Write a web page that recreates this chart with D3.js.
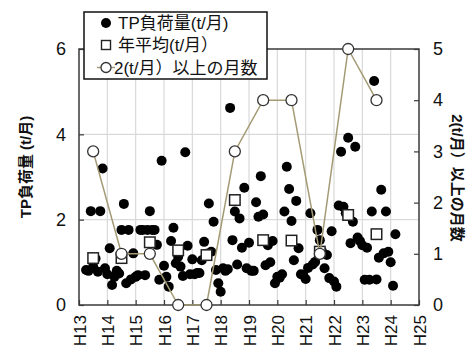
<!DOCTYPE html>
<html><head><meta charset="utf-8">
<script src="https://cdn.jsdelivr.net/npm/d3@7/dist/d3.min.js"></script>
<style>body{margin:0;background:#fff}</style>
</head><body>
<svg id="chart" width="470" height="350"></svg>
<script>
// ---- data ----
const yearLabels = ["H13","H14","H15","H16","H17","H18","H19","H20","H21","H22","H23","H24","H25"];
const firstMonthPos = 13.25; // April of H13 (fiscal year start)
const tpLoad = [
  // FY H13
  0.82,0.80,2.20,0.90,1.09,0.78,2.20,3.20,0.86,0.72,1.33,0.47,
  // FY H14
  0.66,0.80,0.74,1.76,2.37,0.51,1.76,0.60,1.21,0.66,0.70,1.76,
  // FY H15
  1.76,0.70,1.76,2.20,1.76,1.76,1.41,0.59,3.38,0.92,0.66,0.43,
  // FY H16
  1.50,1.81,0.98,1.13,0.90,0.68,3.58,1.39,0.72,1.07,0.72,0.75,
  // FY H17
  0.75,1.05,1.48,1.20,2.38,1.25,1.95,0.82,0.51,0.31,0.86,0.80,
  // FY H18
  0.84,4.62,1.52,2.19,0.95,2.03,1.34,2.75,0.86,1.46,0.80,0.80,
  // FY H19
  2.41,2.07,3.02,2.12,0.93,1.40,1.00,1.50,0.51,0.66,0.64,0.72,
  // FY H20
  2.19,3.24,2.72,1.97,1.05,2.44,1.33,0.72,0.70,0.61,0.87,2.15,
  // FY H21
  0.95,1.01,1.76,1.52,1.25,0.86,1.17,0.63,1.73,0.55,0.43,2.33,
  // FY H22
  3.59,2.30,2.15,3.92,1.45,1.95,3.71,1.58,1.50,1.40,0.59,1.34,
  // FY H23
  0.59,2.19,5.25,0.60,1.11,2.70,1.21,2.19,1.25,1.00,0.45,1.66
];
const annualYears = [13,14,15,16,17,18,19,20,21,22,23];
const annualMean = [1.10,1.10,1.47,1.28,1.17,2.46,1.52,1.51,1.25,2.11,1.66];
const monthsOver2 = [3,1,1,0,0,3,4,4,1,5,4];
const leftTicks = [0,2,4,6];
const rightTicks = [0,1,2,3,4,5];
const legendLabels = ["TP負荷量(t/月)","年平均(t/月）","2(t/月）以上の月数"];
const leftTitle = "TP負荷量 (t/月)";
const rightTitle = "2(t/月）以上の月数";

// ---- layout ----
const L = 79, R = 419, T = 49, B = 305;
const FONT = '"Liberation Sans", Arial, "Noto Sans CJK JP", sans-serif';
const lineColor = "#a39a74";
const frameColor = "#3a3a3a";

const svg = d3.select("#chart");
const x = d3.scaleLinear().domain([13,25]).range([L,R]);
const yL = d3.scaleLinear().domain([0,6]).range([B,T]);
const yR = d3.scaleLinear().domain([0,5]).range([B,T]);
const fmt = d3.format("d");

// gridlines
const g = svg.append("g");
g.selectAll(".vg").data(d3.range(14,25)).enter().append("line")
  .attr("x1",d=>x(d)).attr("x2",d=>x(d)).attr("y1",T).attr("y2",B)
  .attr("stroke","#d9d9d9").attr("stroke-width",1.2);
g.selectAll(".hg").data([2,4]).enter().append("line")
  .attr("x1",L).attr("x2",R).attr("y1",d=>yL(d)).attr("y2",d=>yL(d))
  .attr("stroke","#d9d9d9").attr("stroke-width",1.2);

// frame
svg.append("rect").attr("x",L).attr("y",T).attr("width",R-L).attr("height",B-T)
  .attr("fill","none").attr("stroke",frameColor).attr("stroke-width",1.5);

// axes
const xAxis = d3.axisBottom(x).tickValues(d3.range(13,26)).tickSize(-5).tickFormat((d,i)=>yearLabels[i]);
const gx = svg.append("g").attr("transform",`translate(0,${B})`).call(xAxis);
gx.select(".domain").remove();
gx.selectAll(".tick line").attr("stroke",frameColor).attr("stroke-width",1.2);
gx.selectAll(".tick text").attr("transform","rotate(-90)").attr("x",-10).attr("y",0).attr("dy","0.36em")
  .attr("text-anchor","end").attr("font-size",17).attr("font-family",FONT).attr("fill","#111");

const gl = svg.append("g").attr("transform",`translate(${L},0)`)
  .call(d3.axisLeft(yL).tickValues(leftTicks).tickSize(-5).tickPadding(13).tickFormat(fmt));
gl.select(".domain").remove();
gl.selectAll(".tick line").attr("stroke",frameColor).attr("stroke-width",1.2);
gl.selectAll(".tick text").attr("font-size",18).attr("font-family",FONT).attr("fill","#111");

const gr = svg.append("g").attr("transform",`translate(${R},0)`)
  .call(d3.axisRight(yR).tickValues(rightTicks).tickSize(-5).tickPadding(14).tickFormat(fmt));
gr.select(".domain").remove();
gr.selectAll(".tick line").attr("stroke",frameColor).attr("stroke-width",1.2);
gr.selectAll(".tick text").attr("font-size",18).attr("font-family",FONT).attr("fill","#111");

// axis titles
svg.append("text").attr("transform","translate(26,167) rotate(-90)").attr("text-anchor","middle")
  .attr("dy","0.35em").attr("font-size",15).attr("font-weight","bold").attr("font-family",FONT)
  .attr("fill","#111").text(leftTitle);
svg.append("text").attr("transform","translate(457,178) rotate(90)").attr("text-anchor","middle")
  .attr("dy","0.35em").attr("font-size",15).attr("font-weight","bold").attr("font-family",FONT)
  .attr("fill","#111").text(rightTitle);

// monthly dots
svg.append("g").selectAll("circle").data(tpLoad).enter().append("circle")
  .attr("cx",(d,i)=>x(firstMonthPos + i/12)).attr("cy",d=>yL(d)).attr("r",5)
  .attr("fill","#000");

// annual mean squares
const sq = 10.5;
svg.append("g").selectAll("rect").data(annualMean).enter().append("rect")
  .attr("x",(d,i)=>x(annualYears[i]+0.5)-sq/2).attr("y",d=>yL(d)-sq/2)
  .attr("width",sq).attr("height",sq).attr("fill","#fff").attr("stroke","#222").attr("stroke-width",1.5);

// count line + circles
const line = d3.line().x((d,i)=>x(annualYears[i]+0.5)).y(d=>yR(d));
svg.append("path").datum(monthsOver2).attr("d",line).attr("fill","none")
  .attr("stroke",lineColor).attr("stroke-width",1.5);
svg.append("g").selectAll("circle").data(monthsOver2).enter().append("circle")
  .attr("cx",(d,i)=>x(annualYears[i]+0.5)).attr("cy",d=>yR(d)).attr("r",5.5)
  .attr("fill","#fff").attr("stroke","#333").attr("stroke-width",1.3);

// legend
const lg = svg.append("g");
lg.append("rect").attr("x",84).attr("y",12).attr("width",183).attr("height",67)
  .attr("fill","#fff").attr("stroke","#111").attr("stroke-width",1.5);
const rowsY = [23,45,67.5];
lg.append("circle").attr("cx",106).attr("cy",rowsY[0]).attr("r",5).attr("fill","#000");
lg.append("rect").attr("x",106-4.5).attr("y",rowsY[1]-4.5).attr("width",9).attr("height",9)
  .attr("fill","#fff").attr("stroke","#222").attr("stroke-width",1.4);
lg.append("line").attr("x1",97).attr("x2",115).attr("y1",rowsY[2]).attr("y2",rowsY[2])
  .attr("stroke",lineColor).attr("stroke-width",1.5);
lg.append("circle").attr("cx",106).attr("cy",rowsY[2]).attr("r",5)
  .attr("fill","#fff").attr("stroke","#333").attr("stroke-width",1.3);
lg.selectAll("text.lt").data(legendLabels).enter().append("text")
  .attr("x",(d,i)=> i===2 ? 114 : 118).attr("y",(d,i)=>rowsY[i]).attr("dy","0.36em")
  .attr("font-size",17).attr("font-family",FONT).attr("fill","#111").text(d=>d);
</script>
</body></html>
